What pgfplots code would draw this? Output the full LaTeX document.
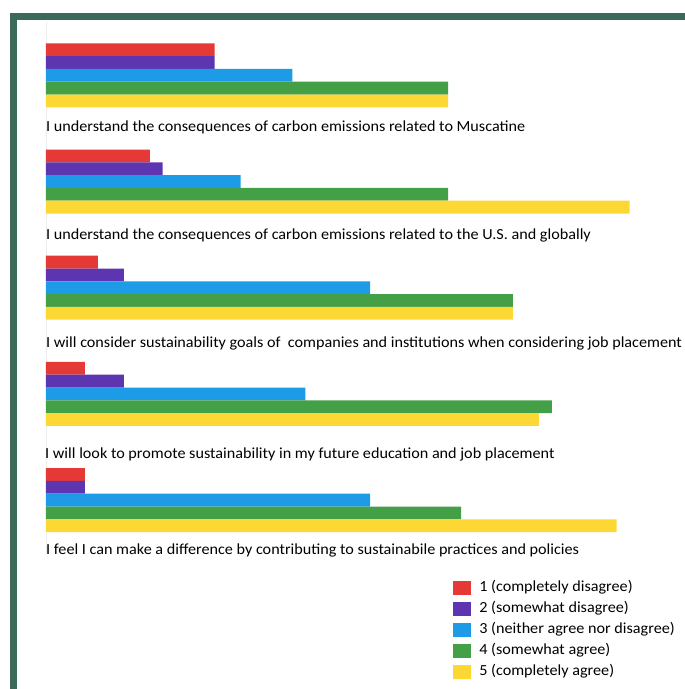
\documentclass[border=0pt]{standalone}
\usepackage{pgfplots}
\pgfplotsset{compat=1.18}
\usepackage{fontspec}
\setmainfont{Carlito}[FakeStretch=1.05]
\definecolor{c1}{HTML}{E53935}
\definecolor{c2}{HTML}{5E35B1}
\definecolor{c3}{HTML}{1E9BE6}
\definecolor{c4}{HTML}{43A047}
\definecolor{c5}{HTML}{FDD835}
\definecolor{frame}{HTML}{3B6A59}
\newcommand{\lf}{\fontsize{15.4}{18}\selectfont}
\begin{document}
\begin{tikzpicture}[x=1pt,y=1pt]
\useasboundingbox (0,0) rectangle (685,-689);
\draw[line width=7pt, frame] (13,-720) -- (13,-16) -- (720,-16);
\begin{axis}[
  at={(46pt,-22.2pt)}, anchor=north west,
  scale only axis, width=635.5pt, height=531pt,
  xmin=0, xmax=49, ymin=-0.5, ymax=4.5, y dir=reverse,
  xbar, bar width=12.8pt,
  axis x line=none, axis y line=left,
  y axis line style={draw=black!7, -},
  ytick=\empty, xtick=\empty,
  clip=false,
  legend style={at={(0.635,-0.0486)}, anchor=north west, draw=none, fill=none,
    font=\lf, row sep=7pt, column sep=8.6pt,
    nodes={inner sep=0pt, text height=10.5pt, text depth=3.5pt}},
  legend cell align=left,
  legend image code/.code={\fill[#1] (0pt,-7pt) rectangle (18pt,7pt);},
]
\addplot[xbar, bar shift=25.6pt, fill=c1, draw=none] coordinates {(13,0) (8,1) (4,2) (3,3) (3,4)};
\addplot[xbar, bar shift=12.8pt, fill=c2, draw=none] coordinates {(13,0) (9,1) (6,2) (6,3) (3,4)};
\addplot[xbar, bar shift=0pt, fill=c3, draw=none] coordinates {(19,0) (15,1) (25,2) (20,3) (25,4)};
\addplot[xbar, bar shift=-12.8pt, fill=c4, draw=none] coordinates {(31,0) (31,1) (36,2) (39,3) (32,4)};
\addplot[xbar, bar shift=-25.6pt, fill=c5, draw=none] coordinates {(31,0) (45,1) (36,2) (38,3) (44,4)};
\legend{1 (completely disagree), 2 (somewhat disagree), 3 (neither agree nor disagree), 4 (somewhat agree), 5 (completely agree)}
\end{axis}
\begin{scope}[every node/.style={anchor=west, inner sep=0pt, font=\lf}]
\node at (46,-127.3) {I understand the consequences of carbon emissions related to Muscatine};
\node at (46,-235) {I understand the consequences of carbon emissions related to the U.S. and globally};
\node at (46,-343) {I will consider sustainability goals of\ \ companies and institutions when considering job placement};
\node at (45,-454) {I will look to promote sustainability in my future education and job placement};
\node at (46,-550.7) {I feel I can make a difference by contributing to sustainabile practices and policies};
\end{scope}
\end{tikzpicture}
\end{document}
